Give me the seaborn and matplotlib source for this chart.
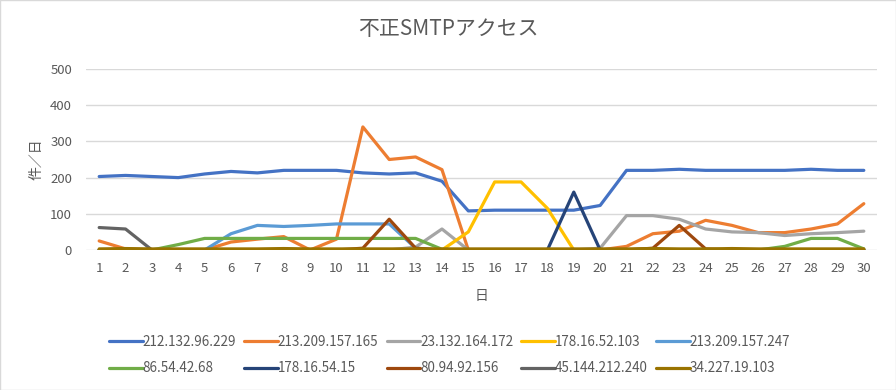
import numpy as np
import pandas as pd
import matplotlib
matplotlib.use("Agg")
import matplotlib.pyplot as plt
import seaborn as sns

# Data
days = list(range(1, 31))
ips = ["212.132.96.229", "213.209.157.165", "23.132.164.172", "178.16.52.103",
       "213.209.157.247", "86.54.42.68", "178.16.54.15", "80.94.92.156",
       "45.144.212.240", "34.227.19.103"]

s_212_132_96_229 = [203, 206, 203, 200, 210, 217, 213, 220, 220, 220,
                    213, 210, 213, 190, 108, 110, 110, 110, 110, 123,
                    220, 220, 223, 220, 220, 220, 220, 223, 220, 220]
s_213_209_157_165 = [25, 3, 0, 0, 0, 22, 30, 37, 0, 30,
                     340, 250, 257, 222, 0, 0, 0, 0, 0, 0,
                     10, 45, 52, 82, 68, 48, 48, 58, 72, 128]
s_23_132_164_172 = [0, 0, 0, 0, 0, 0, 0, 0, 0, 0,
                    0, 0, 8, 58, 0, 0, 0, 0, 0, 5,
                    95, 95, 85, 58, 50, 48, 40, 45, 48, 52]
s_178_16_52_103 = [0, 0, 0, 0, 0, 0, 0, 0, 0, 0,
                   0, 0, 0, 0, 50, 188, 188, 115, 0, 0,
                   0, 0, 0, 0, 0, 0, 0, 0, 0, 0]
s_213_209_157_247 = [0, 0, 0, 0, 0, 45, 68, 65, 68, 72,
                     72, 72, 5, 0, 0, 0, 0, 0, 0, 0,
                     0, 0, 0, 0, 0, 0, 0, 0, 0, 0]
s_86_54_42_68 = [0, 0, 0, 15, 32, 32, 32, 32, 32, 32,
                 32, 32, 32, 2, 0, 0, 0, 0, 0, 0,
                 0, 0, 0, 0, 0, 0, 10, 32, 32, 3]
s_178_16_54_15 = [0, 0, 0, 0, 0, 0, 0, 0, 0, 0,
                  0, 0, 0, 0, 0, 0, 0, 0, 160, 0,
                  0, 0, 0, 0, 0, 0, 0, 0, 0, 0]
s_80_94_92_156 = [0, 0, 0, 0, 0, 0, 0, 0, 0, 0,
                  5, 85, 5, 0, 0, 0, 0, 0, 0, 0,
                  0, 5, 68, 3, 0, 0, 0, 0, 0, 0]
s_45_144_212_240 = [62, 58, 0, 0, 0, 0, 0, 0, 0, 0,
                    0, 0, 0, 0, 0, 0, 0, 0, 0, 0,
                    0, 0, 0, 0, 0, 0, 0, 0, 0, 0]
s_34_227_19_103 = [3, 4, 3, 3, 3, 3, 3, 4, 3, 3,
                   3, 3, 3, 3, 3, 3, 3, 3, 3, 3,
                   3, 4, 3, 3, 4, 3, 3, 3, 3, 3]

series = [s_212_132_96_229, s_213_209_157_165, s_23_132_164_172, s_178_16_52_103,
          s_213_209_157_247, s_86_54_42_68, s_178_16_54_15, s_80_94_92_156,
          s_45_144_212_240, s_34_227_19_103]

colors = ["#4472C4", "#ED7D31", "#A5A5A5", "#FFC000", "#5B9BD5",
          "#70AD47", "#264478", "#9E480E", "#636363", "#997300"]

df = pd.concat([pd.DataFrame({"day": days, "count": vals, "ip": ip})
                for ip, vals in zip(ips, series)], ignore_index=True)

sns.set_style("white")
plt.rcParams["font.family"] = ["Noto Sans CJK JP", "DejaVu Sans"]

fig = plt.figure(figsize=(8.96, 3.90), dpi=100)
ax = fig.add_axes([86 / 896, 140 / 390, 791 / 896, 181 / 390])

sns.lineplot(data=df, x="day", y="count", hue="ip", hue_order=ips,
             palette=colors, linewidth=2.3, ax=ax, legend=True)

ax.set_xlim(0.5, 30.5)
ax.set_ylim(0, 500)
ax.set_xticks(days)
ax.set_yticks([0, 100, 200, 300, 400, 500])
ax.grid(axis="y", color="#d9d9d9", linewidth=1)
ax.set_axisbelow(True)
for sp in ax.spines.values():
    sp.set_visible(False)
ax.tick_params(length=0, colors="#595959", labelsize=9.5)
ax.tick_params(axis="y", pad=10)
ax.tick_params(axis="x", pad=9)

fig.text(0.5, 1 - 29 / 390, "不正SMTPアクセス", fontsize=15, color="#595959",
         ha="center", va="center")
ax.set_xlabel("日", fontsize=10, color="#595959", labelpad=10)
ax.set_ylabel("件／日", fontsize=10, color="#595959", labelpad=5)

# legend in Excel row order
handles, labels = ax.get_legend_handles_labels()
ax.get_legend().remove()
order = [0, 5, 1, 6, 2, 7, 3, 8, 4, 9]
fig.legend([handles[i] for i in order], [labels[i] for i in order],
           ncol=5, loc="upper left", bbox_to_anchor=(0.108, 0.173),
           frameon=False, labelcolor="#595959", fontsize=9.7,
           handlelength=2.5, handletextpad=0.0, columnspacing=0.6,
           labelspacing=0.95)

fig.patches.append(plt.Rectangle((0, 0), 1, 1, transform=fig.transFigure,
                                 fill=False, edgecolor="#d9d9d9", linewidth=1))

fig.savefig("out.png", dpi=100)
plt.close(fig)
